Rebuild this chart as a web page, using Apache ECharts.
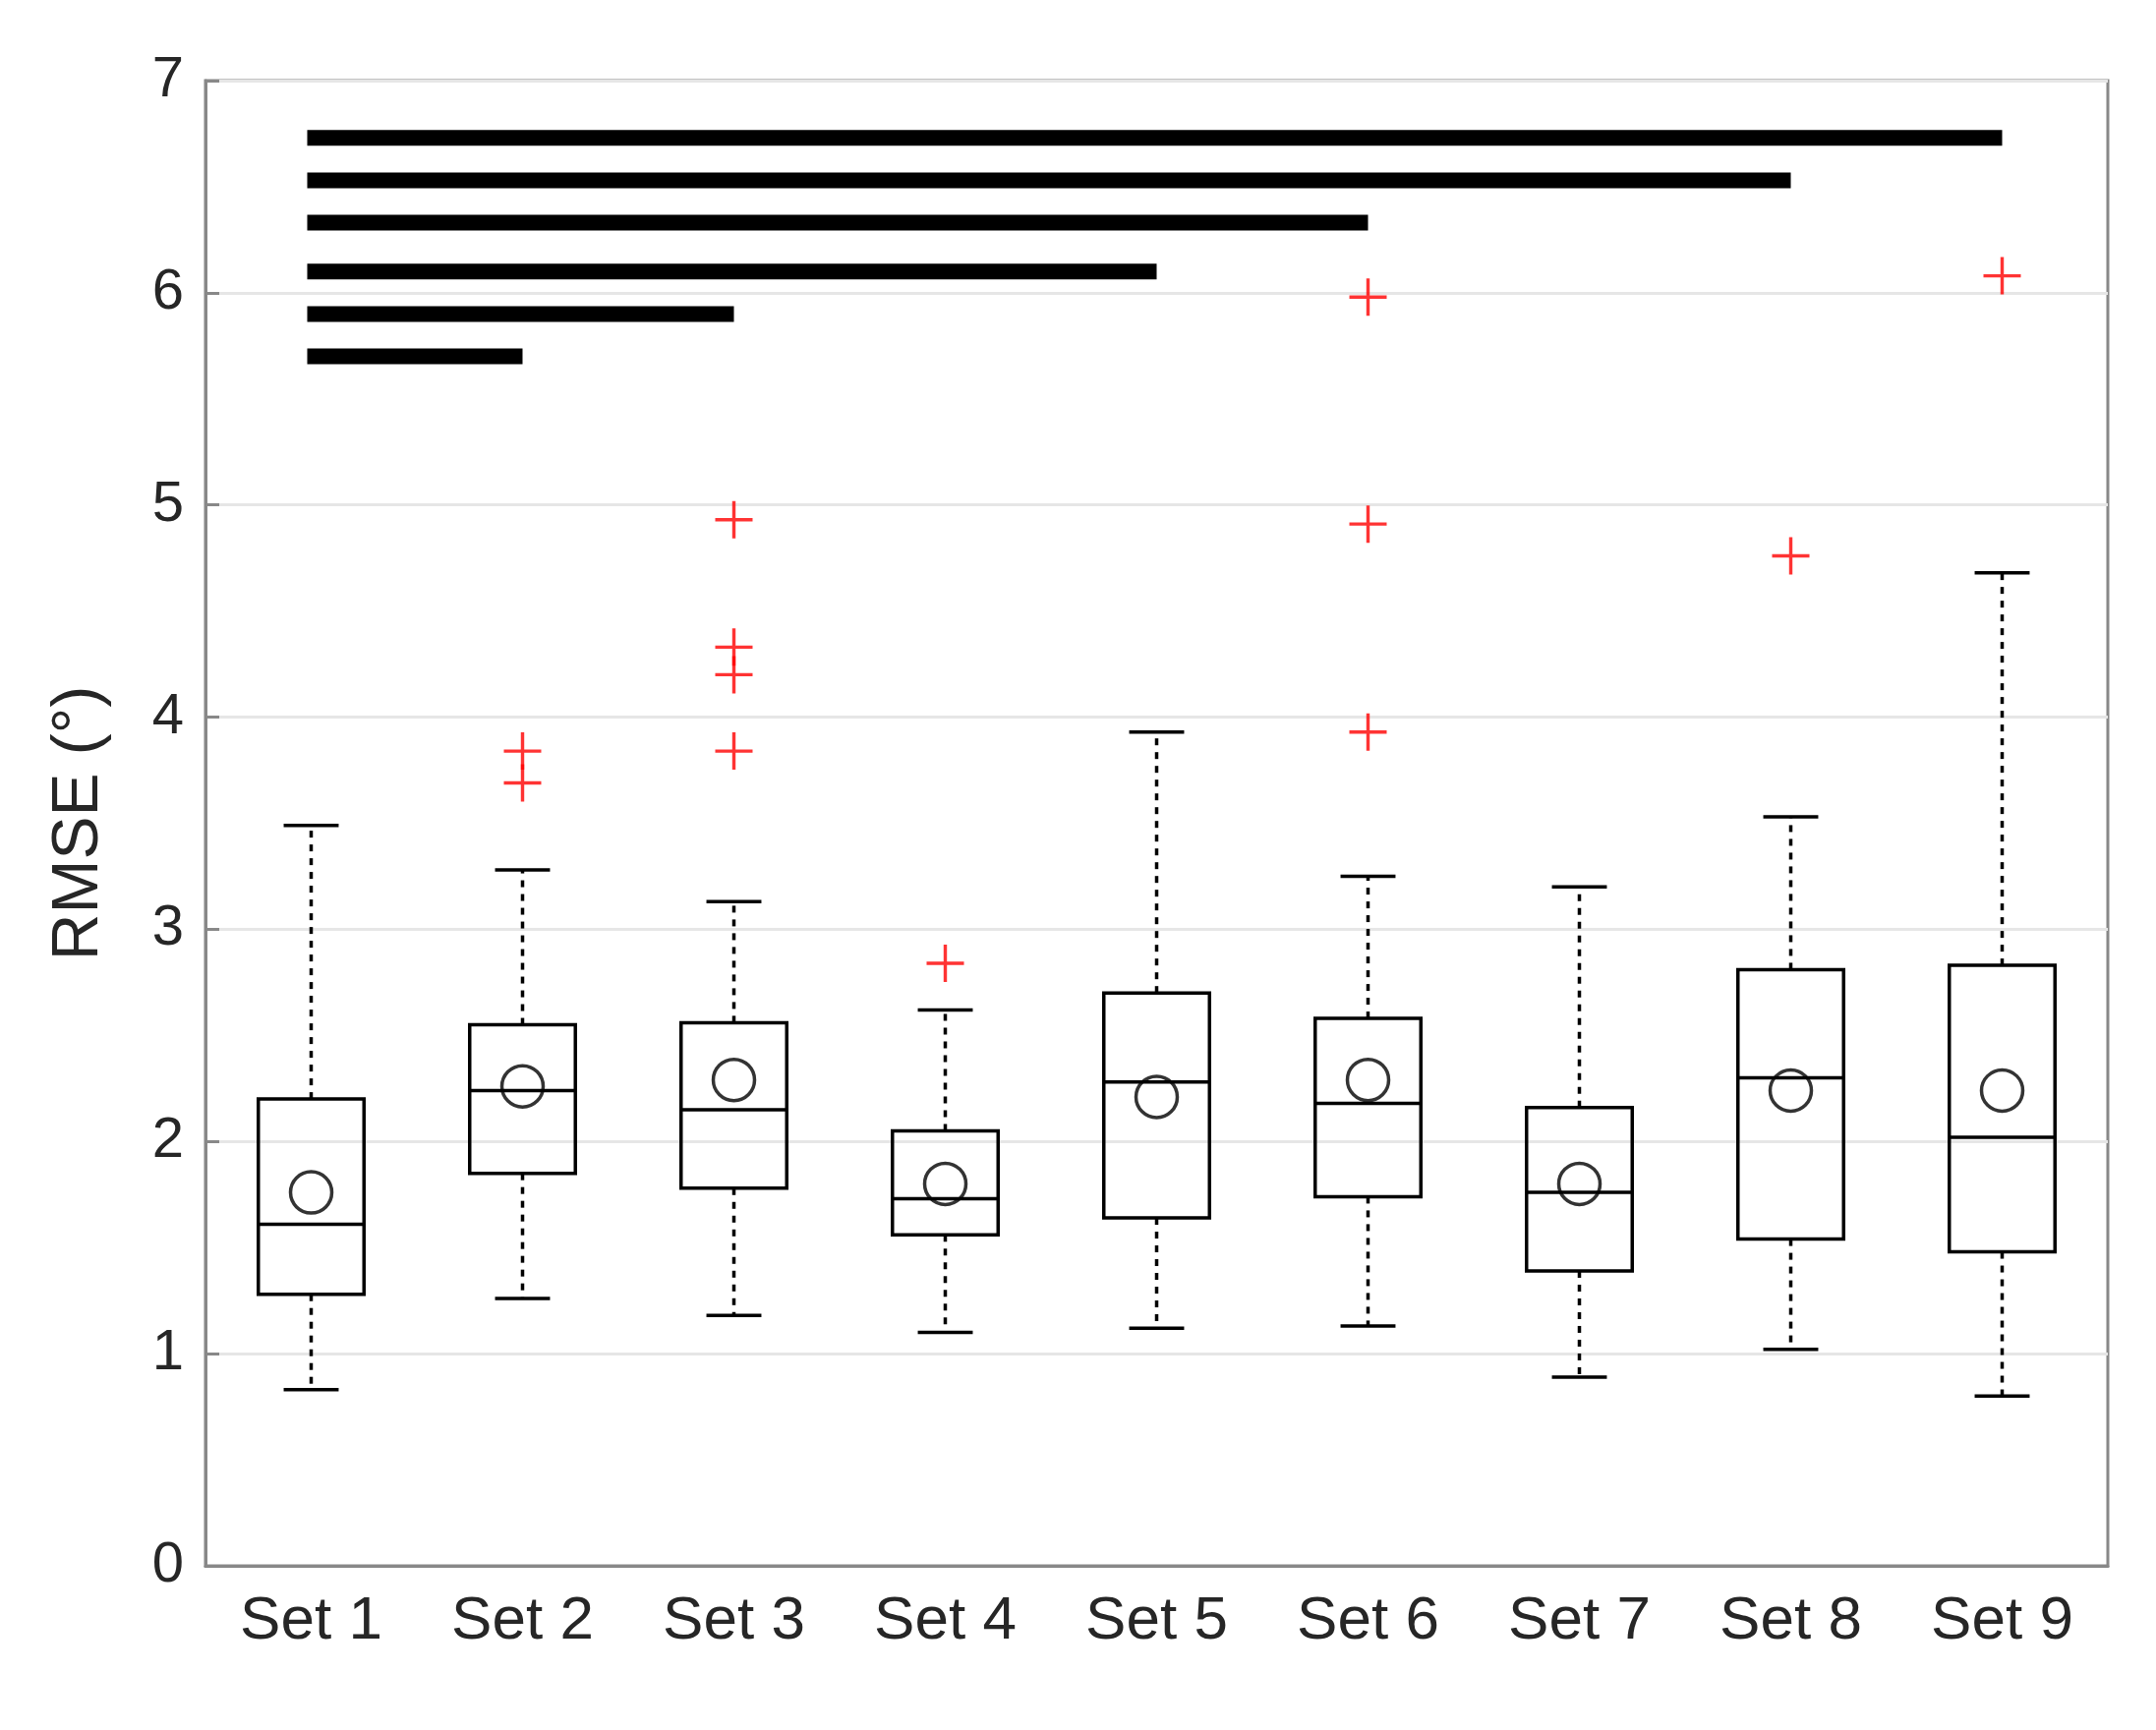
<!DOCTYPE html>
<html>
<head>
<meta charset="utf-8">
<script src="https://cdn.jsdelivr.net/npm/echarts@6/dist/echarts.min.js"></script>
</head>
<body style="margin:0;background:#fff">
<div id="main" style="width:2193px;height:1760px"></div>
<script>
var categories = ['Set 1', 'Set 2', 'Set 3', 'Set 4', 'Set 5', 'Set 6', 'Set 7', 'Set 8', 'Set 9'];
var lows    = [0.83, 1.26, 1.18, 1.10, 1.12, 1.13, 0.89, 1.02, 0.80];
var q1s     = [1.28, 1.85, 1.78, 1.56, 1.64, 1.74, 1.39, 1.54, 1.48];
var medians = [1.61, 2.24, 2.15, 1.73, 2.28, 2.18, 1.76, 2.30, 2.02];
var q3s     = [2.20, 2.55, 2.56, 2.05, 2.70, 2.58, 2.16, 2.81, 2.83];
var highs   = [3.49, 3.28, 3.13, 2.62, 3.93, 3.25, 3.20, 3.53, 4.68];
var means   = [1.76, 2.26, 2.29, 1.80, 2.21, 2.29, 1.80, 2.24, 2.24];
var outliers = [[1, 3.84], [1, 3.69], [2, 4.93], [2, 4.33], [2, 4.20], [2, 3.84],
  [3, 2.84], [5, 5.98], [5, 4.91], [5, 3.93], [7, 4.76], [8, 6.08]];
// significance bars: [from, to, y]
var sigBars = [[0, 8, 6.73], [0, 7, 6.53], [0, 5, 6.33], [0, 4, 6.10], [0, 2, 5.90], [0, 1, 5.70]];

var boxData = categories.map(function (c, i) {
  return [i, lows[i], q1s[i], medians[i], q3s[i], highs[i]];
});

function renderBox(params, api) {
  var i = api.value(0);
  var band = api.size([1, 0])[0];
  var bw = band * 0.25, cw = band * 0.13;
  var x = api.coord([i, 0])[0];
  var yl = api.coord([i, api.value(1)])[1];
  var y1 = api.coord([i, api.value(2)])[1];
  var ym = api.coord([i, api.value(3)])[1];
  var y3 = api.coord([i, api.value(4)])[1];
  var yh = api.coord([i, api.value(5)])[1];
  var solid = {stroke: '#000', lineWidth: 3.5, fill: null};
  var dash = {stroke: '#000', lineWidth: 3.5, lineDash: [7, 7]};
  return {type: 'group', children: [
    {type: 'rect', shape: {x: x - bw, y: y3, width: 2 * bw, height: y1 - y3}, style: solid},
    {type: 'line', shape: {x1: x - bw, y1: ym, x2: x + bw, y2: ym}, style: solid},
    {type: 'line', shape: {x1: x, y1: y3, x2: x, y2: yh}, style: dash},
    {type: 'line', shape: {x1: x, y1: y1, x2: x, y2: yl}, style: dash},
    {type: 'line', shape: {x1: x - cw, y1: yh, x2: x + cw, y2: yh}, style: solid},
    {type: 'line', shape: {x1: x - cw, y1: yl, x2: x + cw, y2: yl}, style: solid}
  ]};
}

function renderBar(params, api) {
  var a = api.coord([api.value(0), api.value(2)]);
  var b = api.coord([api.value(1), api.value(2)]);
  return {type: 'line', shape: {x1: a[0] - 4, y1: a[1], x2: b[0], y2: b[1]},
    style: {stroke: '#000', lineWidth: 16}};
}

var font = 'Liberation Sans';
var chart = echarts.init(document.getElementById('main'));
chart.setOption({
  animation: false,
  grid: {left: 209, right: 49, top: 82, bottom: 167, show: true, borderColor: '#888', borderWidth: 3},
  xAxis: {
    type: 'category', data: categories,
    axisLine: {lineStyle: {color: '#888', width: 3}},
    axisTick: {alignWithLabel: true, inside: true, length: 14, lineStyle: {color: '#888', width: 3}},
    axisLabel: {color: '#262626', fontSize: 62, fontFamily: font, margin: 26}
  },
  yAxis: {
    type: 'value', min: 0, max: 7, interval: 1,
    name: 'RMSE (°)', nameLocation: 'middle', nameGap: 95,
    nameTextStyle: {color: '#262626', fontSize: 66, fontFamily: font},
    axisLine: {show: true, lineStyle: {color: '#888', width: 3}},
    axisTick: {show: true, inside: true, length: 14, lineStyle: {color: '#888', width: 3}},
    axisLabel: {color: '#262626', fontSize: 58, fontFamily: font, margin: 22},
    splitLine: {lineStyle: {color: '#e6e6e6', width: 3}}
  },
  series: [
    {type: 'custom', renderItem: renderBox, data: boxData, z: 3},
    {type: 'custom', renderItem: renderBar, data: sigBars, z: 4},
    {type: 'scatter', data: means.map(function (v, i) { return [i, v]; }),
      symbol: 'circle', symbolSize: 42,
      itemStyle: {color: 'rgba(0,0,0,0)', borderColor: '#000', borderWidth: 3.5}, z: 5},
    {type: 'scatter', data: outliers,
      symbol: 'path://M0,4.55h10v0.9h-10z M4.55,0h0.9v10h-0.9z', symbolSize: 38,
      itemStyle: {color: '#ff0000'}, z: 5}
  ]
});
</script>
</body>
</html>
